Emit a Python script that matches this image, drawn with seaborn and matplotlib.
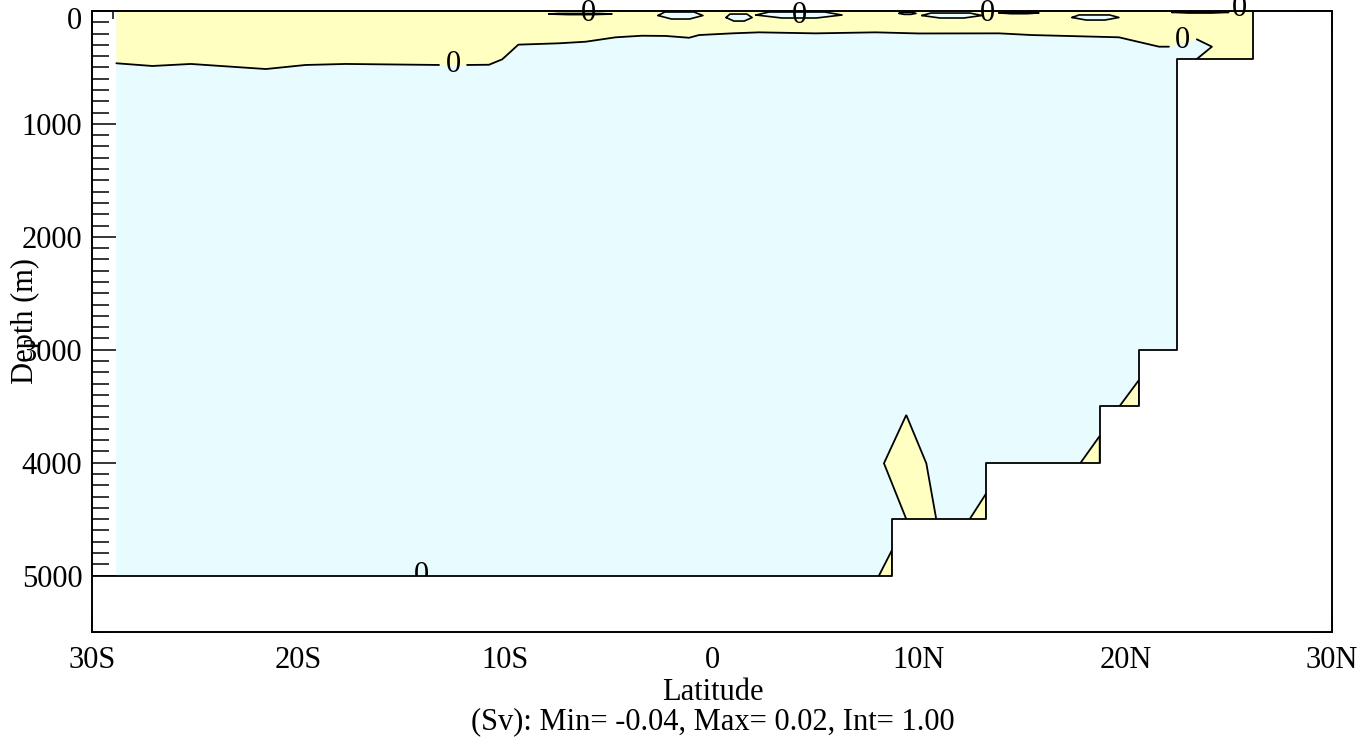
import numpy as np
import matplotlib
matplotlib.use("Agg")
import matplotlib.pyplot as plt
import matplotlib.transforms as mtransforms
import seaborn as sns

# ---------------------------------------------------------------- data
# model sea floor (staircase), latitude in degrees N, depth in m
floor_lat = [-30.0, 8.71, 8.71, 13.27, 13.27, 18.76, 18.76, 20.66, 20.66, 22.5, 22.5, 26.17, 26.17]
floor_depth = [5000, 5000, 4500, 4500, 4000, 4000, 3500, 3500, 3000, 3000, 425, 425, 0]
grid_west = -28.82  # first latitude of the basin grid

# zero streamfunction contour (upper cell), in three pieces broken at the labels
zero_a_lat = [-28.82, -27.08, -25.22, -21.59, -19.66, -17.72, -13.21]
zero_a_depth = [463, 487, 469, 514, 478, 469, 478]
zero_b_lat = [-11.85, -10.79, -10.15, -9.37, -7.40, -6.11, -4.66, -3.39, -2.24, -1.11,
              -0.63, 0.97, 2.27, 5.02, 7.92, 10.01, 13.89, 15.48, 19.69, 21.63, 22.11]
zero_b_depth = [478, 476, 428, 298, 286, 272, 233, 219, 221, 237,
                213, 198, 189, 198, 189, 199, 198, 213, 233, 316, 316]
zero_c_lat = [23.46, 24.19, 23.46]
zero_c_depth = [251, 316, 425]

# positive patches in the bottom corners of the staircase
corner_lat = [
    [8.08, 8.71, 8.71],
    [9.40, 8.32, 9.40, 10.37, 10.85],
    [12.47, 13.27, 13.27],
    [17.84, 18.76, 18.76],
    [19.72, 20.66, 20.66],
]
corner_depth = [
    [5000, 4774, 5000],
    [4500, 4006, 3578, 4006, 4500],
    [4500, 4272, 4500],
    [4000, 3764, 4000],
    [3500, 3268, 3500],
]

# small negative cells just under the surface
cell_west = [-7.89, -2.61, 0.68, 2.13, 9.05, 10.16, 13.89, 17.42, 22.25]
cell_east = [-4.84, -0.44, 1.94, 6.29, 9.87, 13.06, 15.82, 19.69, 25.00]
cell_top = [22, 9, 27, 9, 12, 18, 10, 35, 6]
cell_bottom = [32, 71, 89, 62, 30, 62, 24, 80, 18]

# contour labels
label_lat = [-12.53, 22.74, -14.08, -6.0, 4.21, 13.35, 25.5]
label_depth = [478, 257, 5000, 25, 40, 25, -25]

# axes
lat_ticks = [-30, -20, -10, 0, 10, 20, 30]
lat_labels = ["30S", "20S", "10S", "0", "10N", "20N", "30N"]
depth_ticks = [0, 1000, 2000, 3000, 4000, 5000]
caption = "(Sv): Min= -0.04, Max= 0.02, Int= 1.00"

POS = "#FFFFC2"
NEG = "#E8FCFF"
FS = 22

# ---------------------------------------------------------------- style
sns.set_theme(style="ticks")
plt.rcParams["font.family"] = ["Liberation Serif", "DejaVu Serif"]
plt.rcParams["font.size"] = FS
plt.rcParams["text.color"] = "black"
plt.rcParams["axes.labelcolor"] = "black"
plt.rcParams["xtick.color"] = "black"
plt.rcParams["ytick.color"] = "black"

W, H = 1365, 738
fig = plt.figure(figsize=(W / 100, H / 100), dpi=100)
ax = fig.add_axes([92 / W, 1 - 632 / H, 1240 / W, 621 / H])
ax.set_xlim(-30, 30)
ax.set_ylim(5500, 0)

# ocean area (negative streamfunction)
ocean_lat = [grid_west, grid_west] + floor_lat[1:]
ocean_depth = [0, 5000] + floor_depth[1:]
ax.fill(ocean_lat, ocean_depth, color=NEG, lw=0, zorder=1)

# upper positive layer above the zero line
up_lat = [grid_west, 26.17, 26.17] + zero_c_lat[::-1] + zero_b_lat[::-1] + zero_a_lat[::-1]
up_depth = [0, 0, 425] + zero_c_depth[::-1] + zero_b_depth[::-1] + zero_a_depth[::-1]
ax.fill(up_lat, up_depth, color=POS, lw=0, zorder=1.1)

# bottom corner patches
for la, de in zip(corner_lat, corner_depth):
    ax.fill(la, de, color=POS, lw=0, zorder=1.2)
    ax.plot(la, de, color="black", lw=1.3, zorder=1.6, solid_joinstyle="miter")

# near-surface cells
for w, e, t, b in zip(cell_west, cell_east, cell_top, cell_bottom):
    L = e - w
    m = 0.5 * (t + b)
    xs = [w, w + 0.15 * L, e - 0.2 * L, e, e - 0.3 * L, w + 0.3 * L, w]
    ys = [m, t, t, m, b, b, m]
    ax.fill(xs, ys, color=NEG, lw=0, zorder=1.3)
    ax.plot(xs, ys, color="black", lw=1.2, zorder=1.6)

# zero contour
for la, de in [(zero_a_lat, zero_a_depth), (zero_b_lat, zero_b_depth), (zero_c_lat, zero_c_depth)]:
    sns.lineplot(x=la, y=de, sort=False, estimator=None, color="black", lw=1.3, ax=ax, zorder=1.6)

for la, de in zip(label_lat, label_depth):
    ax.text(la, de, "0", ha="center", va="center", fontsize=FS, zorder=1.7, clip_on=False)

# land mask and outline
land_lat = floor_lat + [30, 30, -30]
land_depth = floor_depth + [0, 5500, 5500]
ax.fill(land_lat, land_depth, color="white", lw=0, zorder=1.8)
ax.plot(floor_lat, floor_depth, color="black", lw=1.3, zorder=1.9)

# axes decoration
ax.set_xticks(lat_ticks)
ax.set_xticklabels(lat_labels)
ax.set_xticks(np.arange(-30, 31, 1), minor=True)
ax.set_yticks(depth_ticks)
ax.set_yticks(np.arange(0, 5501, 100), minor=True)
ax.tick_params(axis="x", which="major", direction="in", length=12, width=1.1,
               top=True, bottom=True, pad=10, labelsize=FS, color="black", labelcolor="black")
ax.tick_params(axis="x", which="minor", direction="in", length=5.5, width=1.1,
               top=True, bottom=True, color="black")
ax.tick_params(axis="y", which="major", direction="in", length=24, width=1.1,
               left=True, right=True, pad=7, labelsize=FS, color="black", labelcolor="black")
ax.tick_params(axis="y", which="minor", direction="in", length=12, width=1.1,
               left=True, right=True, color="black")
for s in ax.spines.values():
    s.set_visible(True)
    s.set_color("black")
    s.set_linewidth(1.4)
ax.set_xlabel("")
ax.set_ylabel("")
ax.grid(False)

# nudge the surface depth label down so it stays on the canvas
fig.canvas.draw()
ylabels = ax.get_yticklabels()
ylabels[0].set_transform(ylabels[0].get_transform() +
                         mtransforms.ScaledTranslation(0, -7 / 100, fig.dpi_scale_trans))

fig.text(713 / W, 1 - 693 / H, "Latitude", ha="center", va="center", fontsize=FS)
fig.text(713 / W, 1 - 722 / H, caption, ha="center", va="center", fontsize=FS)
fig.text(25 / W, 1 - 321 / H, "Depth (m)", ha="center", va="center", rotation=90, fontsize=FS)

fig.savefig("out.png", dpi=100)
